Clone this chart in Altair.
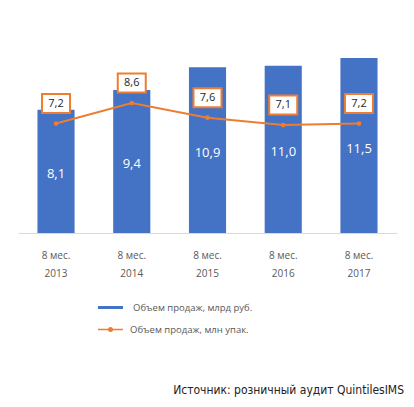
import altair as alt
import pandas as pd

categories = ["8 мес.\n2013", "8 мес.\n2014", "8 мес.\n2015", "8 мес.\n2016", "8 мес.\n2017"]
sales_rub = [8.1, 9.4, 10.9, 11.0, 11.5]
sales_pack = [7.2, 8.6, 7.6, 7.1, 7.2]
series_rub = "Объем продаж, млрд руб."
series_pack = "Объем продаж, млн упак."
source_text = "Источник: розничный аудит QuintilesIMS"

BLUE = "#4472C4"
ORANGE = "#ED7D31"
FONT = "Open Sans"
NARROW = "Liberation Sans Narrow, DejaVu Sans Condensed, Roboto Condensed, Liberation Sans"

df = pd.DataFrame({
    "cat": categories,
    "rub": sales_rub,
    "pack": sales_pack,
    "s_rub": [series_rub] * len(categories),
    "s_pack": [series_pack] * len(categories),
})

base = alt.Chart(df)

x_enc = alt.X(
    "cat:N",
    sort=categories,
    scale=alt.Scale(paddingInner=0.51, paddingOuter=0.257),
    axis=alt.Axis(
        title=None, labelAngle=0, ticks=False, domainColor="#d9d9d9", domainWidth=1,
        labelExpr="split(datum.value, '\\n')", labelColor="#595959", labelFontSize=10,
        labelFont=FONT, labelLineHeight=18, labelPadding=17, labelBaseline="top",
    ),
)

bars = base.mark_bar(color=BLUE).encode(
    x=x_enc,
    y=alt.Y("rub:Q", scale=alt.Scale(domain=[0, 14]), axis=None),
    fill=alt.Fill(
        "s_rub:N",
        scale=alt.Scale(range=[BLUE]),
        legend=alt.Legend(
            title=None, orient="none", legendX=80, legendY=275, padding=0,
            symbolType="M-1,-0.12H1V0.12H-1Z", symbolSize=625, symbolStrokeWidth=0,
            labelOffset=10, labelFontSize=9.5, labelColor="#595959", labelFont=FONT,
        ),
    ),
)

bar_labels = base.transform_calculate(
    mid="datum.rub / 2",
    lbl="replace(format(datum.rub, '.1f'), '.', ',')",
).mark_text(color="white", fontSize=13, font=FONT, baseline="middle", dy=3).encode(
    x=alt.X("cat:N", sort=categories),
    y=alt.Y("mid:Q", scale=alt.Scale(domain=[0, 14]), axis=None),
    text="lbl:N",
)

source = alt.Chart(pd.DataFrame({"t": [source_text]})).mark_text(
    align="right", baseline="middle", fontSize=12, font=NARROW, color="#222222"
).encode(text="t:N", x=alt.value(386), y=alt.value(370))

y2 = alt.Y("pack:Q", scale=alt.Scale(domain=[-0.26, 14.26]), axis=None)

line = base.mark_line(strokeWidth=2).encode(
    x=alt.X("cat:N", sort=categories),
    y=y2,
    stroke=alt.Stroke(
        "s_pack:N",
        scale=alt.Scale(range=[ORANGE]),
        legend=alt.Legend(
            title=None, orient="none", legendX=79, legendY=296, padding=0,
            symbolType="M-1,0H1M0.14,0A0.14,0.14,0,1,1,-0.14,0A0.14,0.14,0,1,1,0.14,0Z",
            symbolSize=625, symbolStrokeWidth=1.5, symbolFillColor=ORANGE,
            labelOffset=6, labelFontSize=9.5, labelColor="#595959", labelFont=FONT,
        ),
    ),
)

dots = base.mark_point(filled=True, color=ORANGE, size=22, opacity=1).encode(
    x=alt.X("cat:N", sort=categories), y=y2
)

boxes = base.mark_point(
    shape="M-1,-0.68H1V0.68H-1Z", size=784, fill="white", fillOpacity=1,
    stroke=ORANGE, strokeWidth=2, opacity=1, yOffset=-20,
).encode(x=alt.X("cat:N", sort=categories), y=y2)

box_text = base.transform_calculate(
    lbl="replace(format(datum.pack, '.1f'), '.', ',')"
).mark_text(fontSize=11, font=FONT, color="#262626", baseline="middle", dy=-20).encode(
    x=alt.X("cat:N", sort=categories), y=y2, text="lbl:N"
)

chart = alt.layer(
    alt.layer(bars, bar_labels, source),
    alt.layer(line, dots, boxes, box_text),
).resolve_scale(y="independent", fill="independent", stroke="independent").properties(
    width=379, height=213,
    autosize=alt.AutoSizeParams(type="none"),
    padding={"left": 10, "top": 12, "right": 9, "bottom": 166},
).configure_view(stroke=None)

chart.save("out.html", embed_options={"renderer": "svg", "actions": False})
